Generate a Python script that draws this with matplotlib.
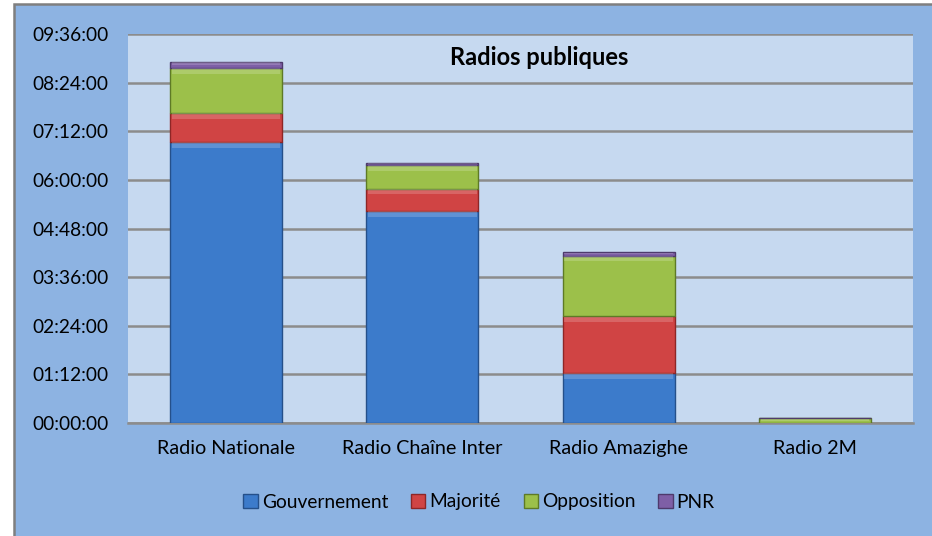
import numpy as np
import matplotlib
matplotlib.use('Agg')
import matplotlib.pyplot as plt
from matplotlib.patches import Rectangle
from matplotlib.ticker import FuncFormatter, MultipleLocator

# durées en minutes
radios = ['Radio Nationale', 'Radio Chaîne Inter', 'Radio Amazighe', 'Radio 2M']
gouvernement = [416, 314, 74, 0]
majorite = [43, 33, 84, 0]
opposition = [67, 35, 90, 7]
pnr = [9, 3, 5, 0]
series = ['Gouvernement', 'Majorité', 'Opposition', 'PNR']

colors = ['#3C7BCB', '#D04444', '#9CC04A', '#7E5FA6']
edges = ['#25508A', '#8E2626', '#5E7A26', '#4E3A6C']

plt.rcParams['font.family'] = ['Lato', 'DejaVu Sans']

fig = plt.figure(figsize=(9.32, 5.36), dpi=100)
fig.patch.set_facecolor('white')
# cadre extérieur
fig.patches.append(Rectangle((14 / 932, -0.01), 1.0, 1 - 4 / 536 + 0.01,
                             transform=fig.transFigure, facecolor='#8DB3E2',
                             edgecolor='#7F7F7F', linewidth=1.8, zorder=-5))

ax = fig.add_axes([128 / 932, 1 - 423 / 536, 785 / 932, 389 / 536])
ax.set_facecolor('#C6D9F0')

x = np.arange(len(radios))
w = 0.57
bottom = np.zeros(len(radios))
for vals, name, c, ec in zip([gouvernement, majorite, opposition, pnr], series, colors, edges):
    vals = np.array(vals, dtype=float)
    ax.bar(x, vals, w, bottom=bottom, color=c, edgecolor=ec, linewidth=1.0,
           label=name, zorder=3)
    # petit reflet en haut de chaque segment
    hl = np.minimum(vals * 0.4, 8)
    ax.bar(x, hl, w * 0.97, bottom=bottom + vals - hl - 0.6, color='white',
           alpha=0.18, linewidth=0, zorder=4)
    bottom += vals

ax.set_xlim(-0.5, 3.5)
ax.set_ylim(0, 576)
ax.yaxis.set_major_locator(MultipleLocator(72))
ax.yaxis.set_major_formatter(FuncFormatter(lambda v, p: '%02d:%02d:00' % (v // 60, v % 60)))
ax.grid(axis='y', color='#8C8C8C', linewidth=1.8, zorder=1)
ax.set_axisbelow(True)
for s in ['top', 'right', 'left']:
    ax.spines[s].set_visible(False)
ax.spines['bottom'].set_color('#8C8C8C')
ax.spines['bottom'].set_linewidth(1.8)
ax.tick_params(axis='y', length=0, labelsize=13.8, colors='black', pad=14)
ax.tick_params(axis='x', length=0, labelsize=14.2, colors='black', pad=12)
ax.set_xticks(x)
ax.set_xticklabels(radios)

ax.text(0.524, 0.94, 'Radios publiques', transform=ax.transAxes, ha='center',
        va='center', fontsize=17, fontweight='bold')

leg = fig.legend(loc='center', bbox_to_anchor=(479 / 932, 1 - 502 / 536), ncol=4,
                 frameon=False, fontsize=13.8, handlelength=0.75, handleheight=0.75,
                 handletextpad=0.2, columnspacing=1.2)

fig.savefig('out.png', dpi=100)
